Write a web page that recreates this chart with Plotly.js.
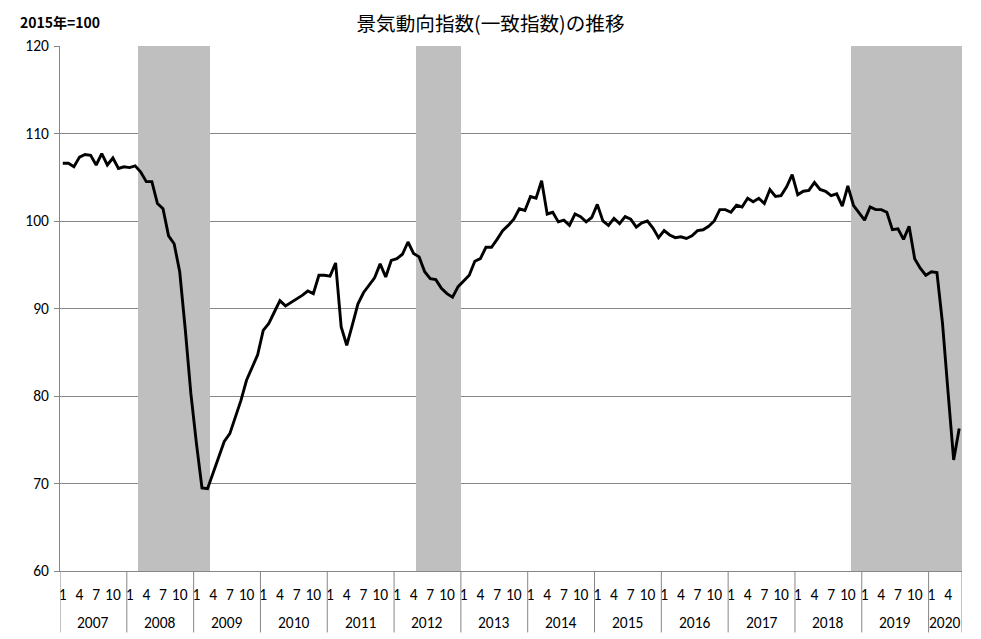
<!DOCTYPE html>
<html>
<head>
<meta charset="utf-8">
<script src="https://cdn.plot.ly/plotly-3.0.1.min.js"></script>
<style>
html,body{margin:0;padding:0;background:#fff;}
#chart{width:981px;height:639px;}
</style>
</head>
<body>
<div id="chart"></div>
<script>
// ---- data ----
const startYear = 2007;
const years = [2007,2008,2009,2010,2011,2012,2013,2014,2015,2016,2017,2018,2019,2020];
const monthTicks = [1,4,7,10];
// 景気動向指数（一致指数）, 2015年=100, monthly from 2007-01 to 2020-06
const ciValues = [
  106.6,106.6,106.2,107.3,107.6,107.5,106.4,107.7,106.4,107.2,106.0,106.2, // 2007
  106.1,106.3,105.6,104.5,104.5,102.0,101.4,98.3,97.4,94.2,87.6,80.3,      // 2008
  74.6,69.5,69.4,71.2,73.1,74.8,75.7,77.5,79.5,81.8,83.2,84.7,             // 2009
  87.5,88.3,89.6,90.9,90.3,90.7,91.2,91.5,92.0,91.7,93.8,93.8,             // 2010
  93.7,95.2,87.9,85.8,88.1,90.5,91.8,92.6,93.5,95.1,93.6,95.5,             // 2011
  95.7,96.2,97.6,96.3,95.9,94.2,93.4,93.3,92.3,91.7,91.3,92.5,             // 2012
  93.1,93.8,95.4,95.7,97.0,97.0,97.9,98.9,99.5,100.2,101.4,101.2,          // 2013
  102.8,102.6,104.6,100.8,101.0,99.9,100.1,99.5,100.8,100.5,99.9,100.4,    // 2014
  101.9,100.0,99.5,100.3,99.7,100.5,100.2,99.3,99.8,100.0,99.2,98.1,       // 2015
  98.9,98.4,98.1,98.2,98.0,98.3,98.9,99.0,99.4,100.0,101.3,101.3,          // 2016
  101.0,101.8,101.6,102.6,102.2,102.6,102.0,103.6,102.8,102.9,103.9,105.3, // 2017
  103.0,103.4,103.5,104.4,103.6,103.4,102.9,103.1,101.7,104.0,101.8,100.9, // 2018
  100.1,101.6,101.3,101.3,101.0,99.0,99.1,97.9,99.4,95.7,94.6,93.8,        // 2019
  94.2,94.1,88.3,80.4,72.7,76.3                                            // 2020
];
// 景気後退期 (shaded)
const recessionStart = ['2008-03','2012-05','2018-11'];
const recessionEnd   = ['2009-03','2012-12','2020-06'];

// ---- helpers ----
function idxOf(ym){ const p = ym.split('-'); return (parseInt(p[0])-startYear)*12 + parseInt(p[1]) - 1; }
const n = ciValues.length;
const xIdx = ciValues.map((v,i)=>i);
const yMin = 60, yMax = 120;

const tickvals = [], ticktext = [];
for (let i=0;i<n;i++){ const m = i%12 + 1; if (monthTicks.includes(m)) { tickvals.push(i); ticktext.push(String(m)); } }

const recX = [], recW = [];
for (let k=0;k<recessionStart.length;k++){
  const s = idxOf(recessionStart[k]), e = idxOf(recessionEnd[k]);
  recX.push((s+e)/2); recW.push(e-s+1);
}

const gray = '#868686';
const tickFont = {family:'Carlito, Lato, sans-serif', size:15.5, color:'#000'};
const shapes = [];
const annotations = [];
const sepDepth = -0.117;
const boundaries = [];
years.forEach((y,k)=>{ boundaries.push(k*12 - 0.5); });
boundaries.push(n - 0.5);
boundaries.forEach(b=>{
  shapes.push({type:'line', xref:'x', yref:'paper', x0:b, x1:b, y0:0, y1:sepDepth, line:{color:gray, width:1}});
});
years.forEach((y,k)=>{
  const a = k*12 - 0.5, b = Math.min((k+1)*12, n) - 0.5;
  annotations.push({xref:'x', yref:'paper', x:(a+b)/2, y:-0.099, text:String(y), showarrow:false,
    xanchor:'center', yanchor:'middle', font:tickFont});
});
annotations.push({xref:'paper', yref:'paper', x:-0.047, y:1.046, xanchor:'left', yanchor:'middle', showarrow:false,
  text:'<b>2015年=100</b>', font:{family:'"Noto Sans CJK JP", sans-serif', size:14, color:'#000'}});

const traces = [
  {type:'bar', x:recX, y:recX.map(()=>yMax-yMin), base:yMin, width:recW,
   marker:{color:'#BFBFBF', line:{width:0}}, hoverinfo:'skip', showlegend:false},
  {type:'scatter', mode:'lines', x:xIdx, y:ciValues, line:{color:'#000', width:2.9},
   showlegend:false, hoverinfo:'y'}
];

const layout = {
  width:981, height:639,
  margin:{l:60, r:19, t:46, b:68},
  paper_bgcolor:'#fff', plot_bgcolor:'#fff',
  title:{text:'景気動向指数(一致指数)の推移', xref:'container', x:0.5, xanchor:'center',
         yref:'container', y:1-24/639, yanchor:'middle',
         font:{family:'"Noto Sans CJK JP", sans-serif', size:19.6, color:'#000'}},
  xaxis:{type:'linear', range:[-0.5, n-0.5], tickmode:'array', tickvals:tickvals, ticktext:ticktext,
         showgrid:false, zeroline:false, showline:true, linecolor:gray, linewidth:1, ticks:'',
         ticklabelstandoff:9, tickfont:tickFont, fixedrange:true},
  yaxis:{range:[yMin, yMax], dtick:10, tick0:60, showgrid:true, gridcolor:gray, gridwidth:1,
         zeroline:false, showline:true, linecolor:gray, linewidth:1, ticks:'outside', ticklen:5, tickcolor:gray,
         ticklabelstandoff:2, tickfont:tickFont, fixedrange:true},
  shapes:shapes, annotations:annotations, bargap:0, showlegend:false
};

Plotly.newPlot('chart', traces, layout, {displayModeBar:false, staticPlot:true});
</script>
</body>
</html>
